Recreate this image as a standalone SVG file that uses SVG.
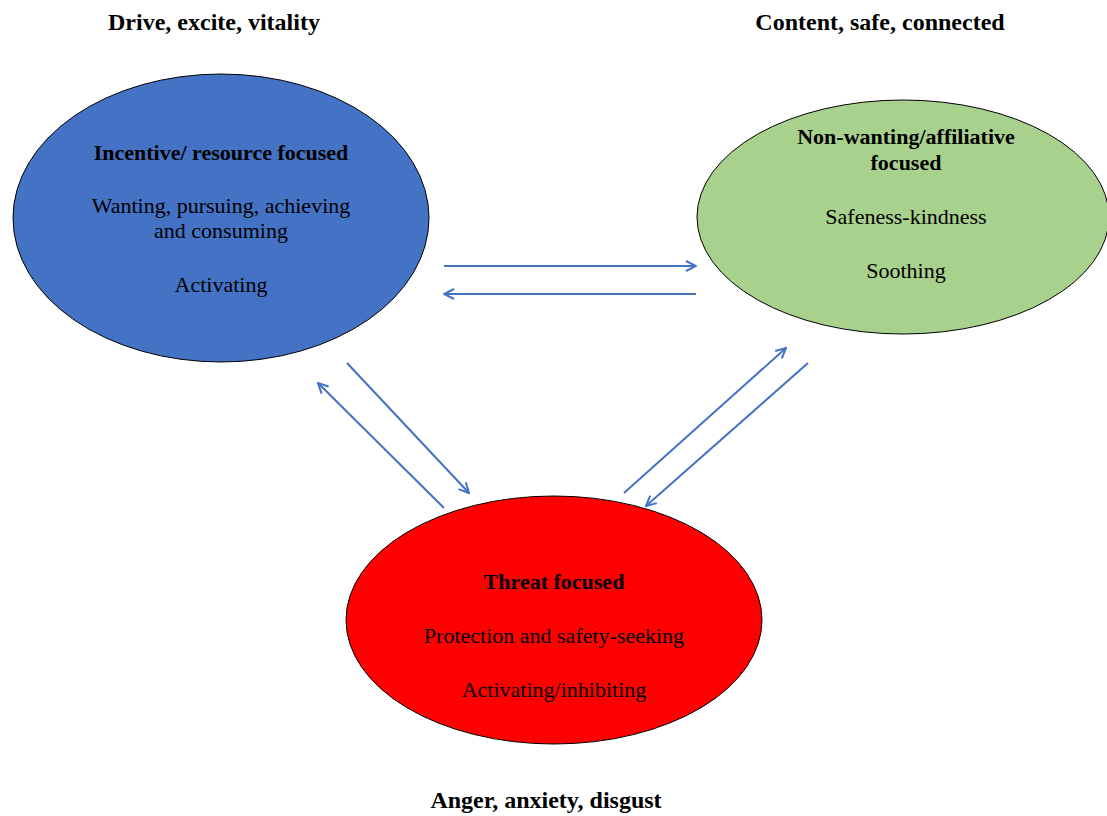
<svg xmlns="http://www.w3.org/2000/svg" width="1107" height="816" viewBox="0 0 1107 816">
<style>
.t{font-family:"Liberation Serif","Times New Roman",serif;font-size:22px;fill:#000;text-anchor:middle}
.b{font-weight:bold}
.h{font-family:"Liberation Serif","Times New Roman",serif;font-size:24px;font-weight:bold;fill:#000;text-anchor:middle}
.e{stroke:#000;stroke-width:1}
.c{stroke:#4472C4;stroke-width:2;fill:none}
</style>
<defs>
<marker id="ah" viewBox="0 0 12 12" refX="11" refY="6" markerWidth="12" markerHeight="12" markerUnits="userSpaceOnUse" orient="auto-start-reverse">
<path d="M1,1 L11,6 L1,11" fill="none" stroke="#4472C4" stroke-width="2"/>
</marker>
</defs>
<rect width="1107" height="816" fill="#fff"/>
<text class="h" x="214" y="30">Drive, excite, vitality</text>
<text class="h" x="880" y="30">Content, safe, connected</text>
<text class="h" x="546" y="808">Anger, anxiety, disgust</text>
<g id="drive">
<ellipse class="e" cx="221" cy="218" rx="208" ry="144" fill="#4472C4"/>
<text class="t b" x="221" y="160">Incentive/ resource focused</text>
<text class="t" x="221" y="213">Wanting, pursuing, achieving</text>
<text class="t" x="221" y="238">and consuming</text>
<text class="t" x="221" y="292">Activating</text>
</g>
<g id="soothe">
<ellipse class="e" cx="903" cy="217" rx="206" ry="117" fill="#A9D18E"/>
<text class="t b" x="906" y="144">Non-wanting/affiliative</text>
<text class="t b" x="906" y="170">focused</text>
<text class="t" x="906" y="224">Safeness-kindness</text>
<text class="t" x="906" y="278">Soothing</text>
</g>
<g id="threat">
<ellipse class="e" cx="554" cy="620" rx="208" ry="124" fill="#FF0000"/>
<text class="t b" x="554" y="589">Threat focused</text>
<text class="t" x="554" y="643">Protection and safety-seeking</text>
<text class="t" x="554" y="697">Activating/inhibiting</text>
</g>
<g id="connectors">
<line class="c" x1="444" y1="266" x2="696" y2="266" marker-end="url(#ah)"/>
<line class="c" x1="696" y1="294" x2="444" y2="294" marker-end="url(#ah)"/>
<line class="c" x1="347" y1="363" x2="469" y2="493" marker-end="url(#ah)"/>
<line class="c" x1="444" y1="508" x2="318" y2="383" marker-end="url(#ah)"/>
<line class="c" x1="624" y1="493" x2="786" y2="348" marker-end="url(#ah)"/>
<line class="c" x1="808" y1="363" x2="646" y2="506" marker-end="url(#ah)"/>
</g>
</svg>
